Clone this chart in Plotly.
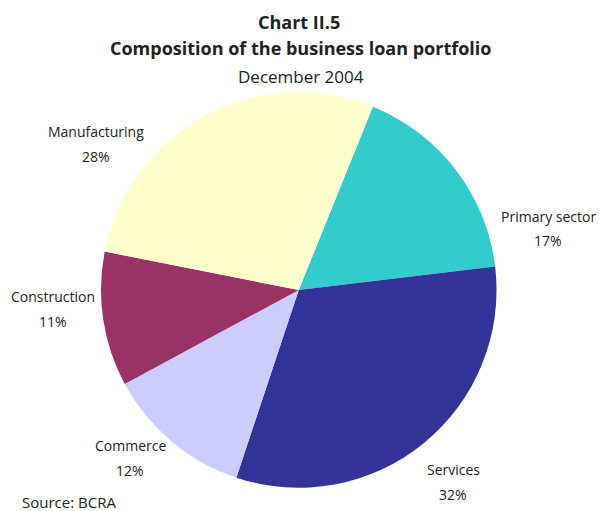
import plotly.graph_objects as go

# Business loan portfolio by sector, December 2004 (percent of total)
sectors = ["Primary sector", "Services", "Commerce", "Construction", "Manufacturing"]
shares = [17, 32, 12, 11, 28]
colors = ["#33CCCC", "#333399", "#CCCCFF", "#993366", "#FFFFCC"]

# Label anchor points (pixels from top-left) for each sector's outside label
label_px = [548, 453, 130, 53, 96]
label_py = [216, 469, 445, 296, 131]

W, H = 599, 511
FONT = "Open Sans"

fig = go.Figure(
    go.Pie(
        labels=sectors,
        values=shares,
        marker=dict(colors=colors, line=dict(width=0)),
        sort=False,
        direction="clockwise",
        rotation=22,
        textinfo="none",
        hoverinfo="label+percent",
        showlegend=False,
        domain=dict(x=[0.1686, 0.8289], y=[0.045, 0.82]),
    )
)


def note(text, px, py, size, anchor="center"):
    return dict(text=text, x=px / W, y=1 - py / H, xanchor=anchor, yanchor="middle",
                xref="paper", yref="paper", showarrow=False,
                font=dict(family=FONT, size=size, color="#222222"))


annotations = [
    note("<b>Chart II.5</b>", 299, 22, 18),
    note("<b>Composition of the business loan portfolio</b>", 300, 48, 18),
    note("December 2004", 301, 76, 17),
    note("Source: BCRA", 20, 502, 15, anchor="left"),
]
for name, val, px, py in zip(sectors, shares, label_px, label_py):
    annotations.append(note(name, px, py, 14))
    annotations.append(note(f"{val}%", px, py + 25, 14))

fig.update_layout(
    width=W,
    height=H,
    margin=dict(l=0, r=0, t=0, b=0),
    paper_bgcolor="white",
    plot_bgcolor="white",
    annotations=annotations,
    font=dict(family=FONT),
)

fig.write_html("out.html")
